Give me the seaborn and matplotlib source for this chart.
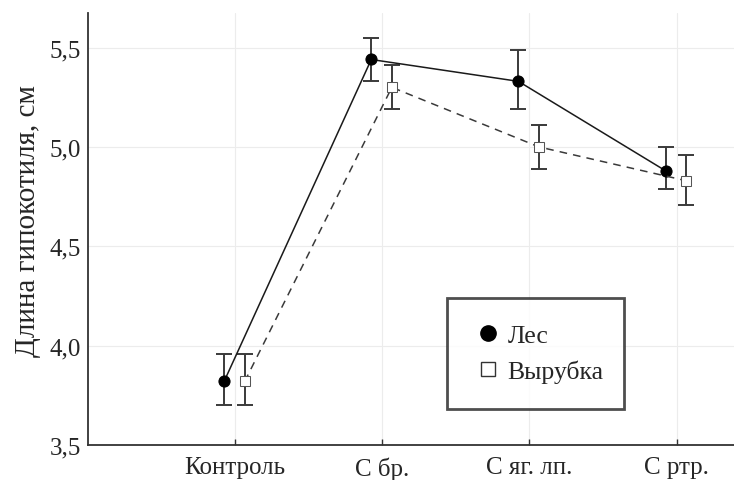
import pandas as pd
import numpy as np
import matplotlib
matplotlib.use("Agg")
import matplotlib.pyplot as plt
import seaborn as sns
from matplotlib.ticker import FuncFormatter

# values
categories = ["Контроль", "С бр.", "С яг. лп.", "С ртр."]
les_mean = [3.82, 5.44, 5.33, 4.88]
les_low = [3.70, 5.33, 5.19, 4.79]
les_high = [3.96, 5.55, 5.49, 5.00]
vyr_mean = [3.82, 5.30, 5.00, 4.83]
vyr_low = [3.70, 5.19, 4.89, 4.71]
vyr_high = [3.96, 5.41, 5.11, 4.96]

sns.set_style("whitegrid")
plt.rcParams["font.family"] = ["Liberation Serif", "DejaVu Serif"]

idx = np.arange(len(categories))
df = pd.DataFrame({
    "x": np.concatenate([idx - 0.075, idx + 0.065]),
    "y": les_mean + vyr_mean,
    "low": les_low + vyr_low,
    "high": les_high + vyr_high,
    "group": ["Лес"] * 4 + ["Вырубка"] * 4,
})

fig = plt.figure(figsize=(7.34, 4.81), dpi=100)
ax = fig.add_axes([88 / 734, 35 / 481, 1 - 88 / 734, 432 / 481])

# error bars
for g in ["Лес", "Вырубка"]:
    d = df[df["group"] == g]
    ax.errorbar(d["x"], d["y"], yerr=[d["y"] - d["low"], d["high"] - d["y"]],
                fmt="none", ecolor="#3a3a3a", elinewidth=1.4, capsize=6, capthick=1.4, zorder=2)

sns.lineplot(data=df[df["group"] == "Лес"], x="x", y="y", ax=ax, color="#1a1a1a",
             linewidth=1.1, marker="o", markersize=8, markerfacecolor="black",
             markeredgecolor="black", label="Лес", zorder=3, legend=False)
sns.lineplot(data=df[df["group"] == "Вырубка"], x="x", y="y", ax=ax, color="#3a3a3a",
             linewidth=1.1, linestyle=(0, (5, 4)), marker="s", markersize=7,
             markerfacecolor="white", markeredgecolor="#555555", label="Вырубка",
             zorder=3, legend=False)

ax.set_xlim(-1.0, 3.39)
ax.set_ylim(3.5, 5.674)
ax.set_xticks(idx)
ax.set_xticklabels(categories)
ax.set_yticks([3.5, 4.0, 4.5, 5.0, 5.5])
ax.yaxis.set_major_formatter(FuncFormatter(lambda v, p: f"{v:.1f}".replace(".", ",")))
ax.set_xlabel("")
ax.set_ylabel("Длина гипокотиля, см", fontsize=21)
ax.yaxis.set_label_coords(-0.073, 0.521)
ax.tick_params(axis="x", direction="in", length=4, width=1, color="#333333",
               labelsize=18, pad=8, bottom=True)
ax.tick_params(axis="y", length=0, labelsize=18, pad=5)
ax.grid(True, color="#ececec", linewidth=0.8)

for s in ["top", "right"]:
    ax.spines[s].set_visible(False)
for s in ["left", "bottom"]:
    ax.spines[s].set_visible(True)
    ax.spines[s].set_color("#333333")
    ax.spines[s].set_linewidth(1.3)

leg_handles = [
    plt.Line2D([], [], linestyle="none", marker="o", markersize=11, color="black"),
    plt.Line2D([], [], linestyle="none", marker="s", markersize=10,
               markerfacecolor="white", markeredgecolor="#333333"),
]
leg = ax.legend(leg_handles, ["Лес", "Вырубка"], loc="lower left",
                bbox_to_anchor=((447 - 88) / 646, (446 - 410) / 432, (624 - 447) / 646, (410 - 300) / 432),
                mode="expand", fontsize=18.5, frameon=True, fancybox=False,
                borderpad=1.0, labelspacing=0.5, handletextpad=0.15, handlelength=1.2,
                borderaxespad=0)
leg.get_frame().set_edgecolor("#222222")
leg.get_frame().set_linewidth(2)

fig.savefig("out.png", dpi=100)
